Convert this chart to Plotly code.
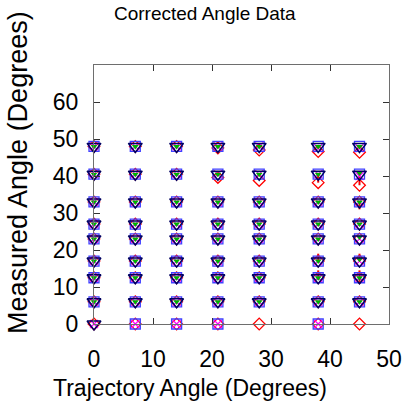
import plotly.graph_objects as go

# ---- data ----
traj_angles = [0, 7, 14, 21, 28, 38, 45]          # x categories (degrees)
nominal_rows = [0, 6, 12.5, 17, 23, 27, 33, 40.5, 48]

N = None
# red diamonds (measured values, rows x columns)
red_vals = [
    [0, 0, 0, 0, 0, 0, 0],
    [6, 6, 6, 6, 6, 6, 6],
    [12.5, 12.5, 12.5, 12.5, 12.5, 12.5, 12.5],
    [17, 17, 17, 17, 17, 17, 17],
    [23, 23, 23, 23, 23, 23, 23],
    [27, 27, 27, 27, 27, 27, 27],
    [33, 33, 33, 33, 33, 33, 33],
    [40.5, 40.5, 40.5, 39.6, 38.8, 38.2, 37.5],
    [48, 48, 48, 47.6, 47.0, 46.6, 46.4],
]
red_err_plus = [
    [0, 0, 0, 0, 0, 0, 0],
    [0, 0, 0, 0, 0, 0, 0],
    [0, 0, 0, 0, 0, 2, 2],
    [0, 0, 0, 0, 0, 2, 2],
    [0, 0, 0, 0, 0, 0, 0],
    [0, 0, 0, 0, 0, 0, 0],
    [0, 0, 0, 0, 0, 0, 0],
    [0, 0, 0, 0, 0, 2.3, 3],
    [0, 0, 0, 0, 0, 0, 0],
]
red_err_minus = [
    [0, 0, 0, 0, 0, 0, 0],
    [0, 0, 0, 0, 0, 0, 0],
    [0, 0, 0, 0, 0, 0, 1.5],
    [0, 0, 0, 0, 0, 0, 0],
    [0, 0, 0, 0, 0, 0, 0],
    [0, 0, 0, 0, 0, 0, 0],
    [0, 0, 0, 0, 0, 0, 2],
    [0, 0, 0, 0, 0, 0, 0],
    [0, 0, 0, 0, 0, 0, 0],
]
# blue open squares
blue_vals = [
    [N, 0, 0, 0, N, 0, N],
    [6, 6, 6, 6, 6, 6, 6],
    [12.5, 12.5, 12.5, 12.5, 12.5, 12.5, 12.5],
    [17, 17, 17, 17, 17, 17, 17],
    [23, 23, 23, 23, 23, 23, 23],
    [27, 27, 27, 27, 27, 27, 27],
    [33, 33, 33, 33, 33, 33, 33],
    [40.5, 40.5, 40.5, 40.5, 40.5, 40.5, 40.5],
    [48, 48, 48, 48, 48, 48, 48],
]
# navy open triangles (down)
navy_vals = [
    [0, N, N, N, N, N, N],
    [6, 6, 6, 6, 6, 6, 6],
    [12.5, 12.5, 12.5, 12.5, 12.5, 12.5, 12.5],
    [17, 17, 17, 17, 17, 17, 17],
    [23, 23, 23, 23, 23, 23, 23],
    [27, 27, 27, 27, 27, 27, 27],
    [33, 33, 33, 33, 33, 33, 33],
    [40.5, 40.5, 40.5, 40.5, 40.5, 40.5, 40.5],
    [48, 48, 48, 48, 48, 48, 48],
]
# green small filled triangles
green_vals = [
    [N, N, N, N, N, N, N],
    [6, 6, 6, 6, 6, 6, 6],
    [12.5, 12.5, 12.5, 12.5, 12.5, 12.5, 12.5],
    [17, 17, 17, 17, 17, 17, 17.5],
    [23, 23, 23, 23, 23, 23, 23.5],
    [27, 27, 27, 27, 27, 27, 27],
    [33, 33, 33, 33, 33, 33, 33],
    [40.5, 40.5, 40.5, 40.5, 40.5, 40.5, 40.8],
    [48, 48, 48, 48, 48, 48, 48],
]
# magenta crosses
magenta_vals = [
    [0, 0, 0, 0, N, 0, N],
    [6, 6, 6, 6, 6, 6, 6],
    [12.5, 12.5, 12.5, 12.5, 12.5, 12.5, 12.5],
    [17, 17, 17, 17, 17, 17, 17],
    [23, 23, 23, 23, 23, 23, 23],
    [27, 27, 27, 27, 27, 27, 27],
    [33, 33, 33, 33, 33, 33, 33],
    [40.5, 40.5, 40.5, 40.5, 40.5, 40.5, 40],
    [48, 48, 48, 48, 48, 47.5, 47.5],
]

x_tick_vals = [0, 10, 20, 30, 40, 50]
y_tick_vals = [0, 10, 20, 30, 40, 50, 60]


def flatten(grid):
    xs, ys = [], []
    for row in grid:
        for xv, yv in zip(traj_angles, row):
            if yv is not None:
                xs.append(xv)
                ys.append(yv)
    return xs, ys


def flat_err(grid, ref):
    out = []
    for row, rrow in zip(grid, ref):
        for e, r in zip(row, rrow):
            if r is not None:
                out.append(e)
    return out


FONT = "Liberation Sans, Arial, sans-serif"
fig = go.Figure()

rx, ry = flatten(red_vals)
fig.add_trace(go.Scatter(
    x=rx, y=ry, mode="markers", cliponaxis=False,
    marker=dict(symbol="diamond-open", size=9, color="#ff0000", line=dict(width=1.3)),
    error_y=dict(type="data", array=flat_err(red_err_plus, red_vals),
                 arrayminus=flat_err(red_err_minus, red_vals),
                 color="#ff0000", thickness=2, width=0, symmetric=False),
))
mx, my = flatten(magenta_vals)
fig.add_trace(go.Scatter(
    x=mx, y=my, mode="markers", cliponaxis=False,
    marker=dict(symbol="x-thin-open", size=8, color="#ff00ff", line=dict(width=1.2, color="#ff00ff")),
))
bx, by = flatten(blue_vals)
fig.add_trace(go.Scatter(
    x=bx, y=by, mode="markers", cliponaxis=False,
    marker=dict(symbol="square-open", size=10, color="#4040ff", line=dict(width=1.3)),
))
gx, gy = flatten(green_vals)
fig.add_trace(go.Scatter(
    x=gx, y=gy, mode="markers", cliponaxis=False,
    marker=dict(symbol="triangle-down", size=6, color="#00b000"),
))
nx, ny = flatten(navy_vals)
fig.add_trace(go.Scatter(
    x=nx, y=ny, mode="markers", cliponaxis=False,
    marker=dict(symbol="triangle-down-open", size=12, color="#000060", line=dict(width=1.5)),
))

axis_common = dict(
    showgrid=False, zeroline=False, showline=True, linecolor="#6e6e6e", linewidth=1,
    mirror="ticks", ticks="inside", ticklen=6, tickcolor="#333333", tickwidth=1,
    automargin=False,
    tickfont=dict(family=FONT, size=23, color="#000000"),
)

fig.update_layout(
    width=406, height=408,
    margin=dict(l=94, r=17, t=65, b=84, pad=0, autoexpand=False),
    paper_bgcolor="white", plot_bgcolor="white",
    showlegend=False,
    xaxis=dict(range=[0, 50], tickvals=x_tick_vals, ticklabelstandoff=14, **axis_common),
    yaxis=dict(range=[0, 70], tickvals=y_tick_vals, ticklabelstandoff=10, **axis_common),
    annotations=[
        dict(text="Corrected Angle Data", x=0.5, y=14, xref="paper", yref="paper",
             showarrow=False, font=dict(family=FONT, size=19, color="#000")),
        dict(text="Trajectory Angle (Degrees)", x=0.5, y=0, xref="paper", yref="paper",
             showarrow=False, font=dict(family=FONT, size=23, color="#000")),
        dict(text="Measured Angle (Degrees)", x=0, y=0, xref="paper", yref="paper",
             textangle=-90, showarrow=False, font=dict(family=FONT, size=27, color="#000")),
    ],
)

# position annotations in pixel terms relative to plot area (plot: x 94..389, y 65..324)
plot_w = 406 - 94 - 17
plot_h = 408 - 65 - 84
fig.layout.annotations[0].update(x=(205 - 94) / plot_w, y=(324 - 14) / plot_h, yanchor="middle", xanchor="center")
fig.layout.annotations[1].update(x=(190 - 94) / plot_w, y=(324 - 388) / plot_h, yanchor="middle", xanchor="center")
fig.layout.annotations[2].update(x=(18 - 94) / plot_w, y=(324 - 173) / plot_h, yanchor="middle", xanchor="center")

fig.write_html("out.html", config={"responsive": False, "displayModeBar": False},
               post_script="document.body.style.margin='0px';document.body.style.overflow='hidden';")
